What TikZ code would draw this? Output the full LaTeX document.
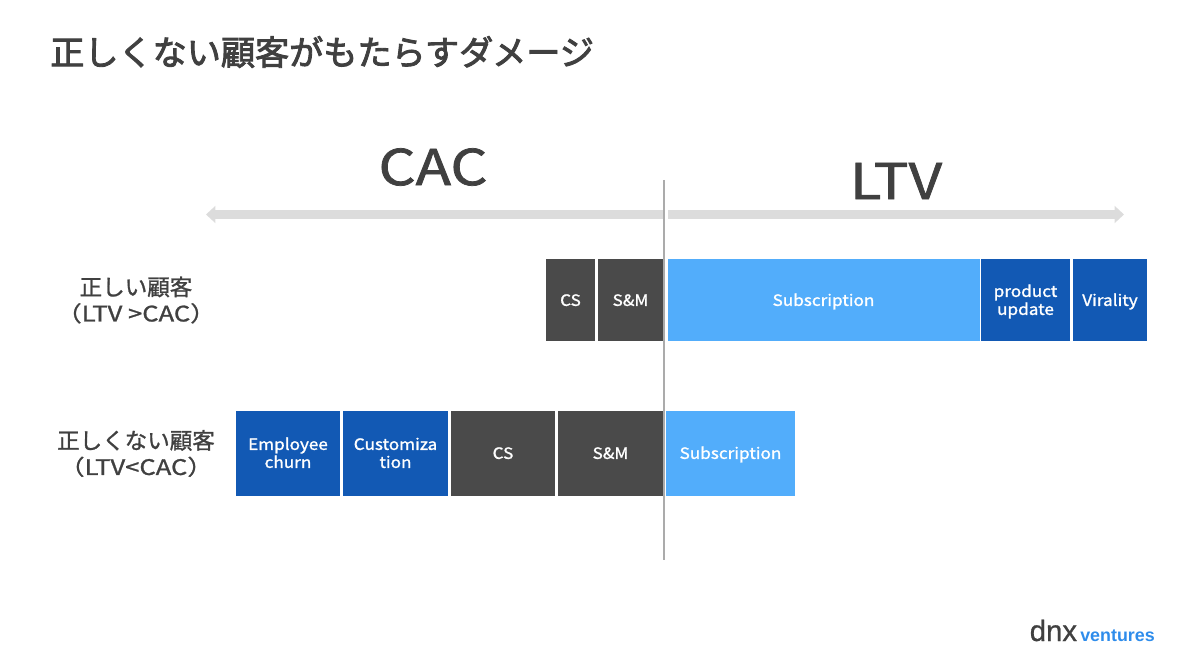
\documentclass[tikz,border=0pt]{standalone}
\usepackage{fontspec}
\setmainfont{Noto Sans CJK JP}
\newfontfamily\med[FakeBold=1.1]{Noto Sans CJK JP}
\newfontfamily\boxfont[FakeBold=1.3,FakeStretch=1.1]{Noto Sans CJK JP}
\newfontfamily\wide[FakeBold=1.2,FakeStretch=1.2]{Noto Sans CJK JP}
\newfontfamily\bighead[FakeBold=1.5,FakeStretch=1.18]{Noto Sans CJK JP}
\newfontfamily\heavy[FakeBold=2.6]{Noto Sans CJK JP}
\newfontfamily\logomed[FakeBold=0.8]{Liberation Sans}
\newfontfamily\logofont{Liberation Sans}
\usetikzlibrary{arrows.meta}
\definecolor{ink}{HTML}{404040}
\definecolor{dark}{HTML}{4A4A4A}
\definecolor{royal}{HTML}{1259B4}
\definecolor{sky}{HTML}{52ADFB}
\definecolor{band}{HTML}{DCDCDC}
\definecolor{rule}{HTML}{ABABAB}
\definecolor{logoblue}{HTML}{2E8CEB}
\newcommand{\lowered}[1]{\raisebox{-1.5pt}[0.75em][0.25em]{#1}}
\tikzset{
  x=0.75pt,y=-0.75pt,
  bar/.style={draw=none,inner sep=0pt,text=white,align=center,font=\boxfont\fontsize{11.7}{13.5}\selectfont,minimum height=#1*0.75pt},
  upper/.style={bar=82},
  lower/.style={bar=85},
  wd/.style={minimum width=#1*0.75pt},
  rowlabel/.style={text=ink,align=center,font=\med\fontsize{16.9}{19.5}\selectfont,inner sep=0pt},
  head/.style={text=ink,inner sep=0pt,font=\bighead\fontsize{37}{44}\selectfont},
  span/.style={draw=band,line width=7pt,-{Triangle[length=7pt,width=12.5pt]}},
}
\begin{document}
\begin{tikzpicture}
\useasboundingbox (0,0) rectangle (1200,649);
\node[inner sep=0pt,anchor=west,text=ink,font=\heavy\fontsize{25.6}{30}\selectfont] (title) at (50,52) {正しくない顧客がもたらすダメージ};
\node[head] (cac) at (433,167) {CAC};
\node[head] (ltv) at (896,181) {LTV};

\coordinate (lfar) at (206,214.5);
\coordinate (lnear) at (663,214.5);
\coordinate (rnear) at (668,214.5);
\coordinate (rfar) at (1124,214.5);
\draw[span] (lnear) -- (lfar);
\draw[span] (rnear) -- (rfar);

\coordinate (ruletop) at (664,180);
\coordinate (rulebot) at (664,560);
\draw[rule,line width=1.1pt] (ruletop) -- (rulebot);

\node[rowlabel] (right) at (136,300) {正しい顧客\\{\wide\fontsize{16}{19.5}\selectfont（LTV >CAC）}};
\node[rowlabel] (wrong) at (136,453.5) {正しくない顧客\\{\wide\fontsize{16}{19.5}\selectfont（LTV<CAC）}};

\node[upper,wd=49,fill=dark] (a1) at (570.5,300) {\lowered{CS}};
\node[upper,wd=65,fill=dark] (a2) at (630.5,300) {\lowered{S\&M}};
\node[upper,wd=312,fill=sky] (a3) at (823.5,300) {\lowered{Subscription}};
\node[upper,wd=89,fill=royal] (a4) at (1025.5,300) {\lowered{product}\\\lowered{update}};
\node[upper,wd=74,fill=royal] (a5) at (1110,300) {\lowered{Virality}};

\node[lower,wd=104,fill=royal] (b1) at (288,453) {\lowered{Employee}\\\lowered{churn}};
\node[lower,wd=105,fill=royal] (b2) at (395.5,453) {\lowered{Customiza}\\\lowered{tion}};
\node[lower,wd=104,fill=dark] (b3) at (503,453) {\lowered{CS}};
\node[lower,wd=105,fill=dark] (b4) at (610.5,453) {\lowered{S\&M}};
\node[lower,wd=129,fill=sky] (b5) at (730.5,453) {\lowered{Subscription}};

\node[inner sep=0pt,anchor=base east,text=logoblue,font=\logofont\fontsize{13.4}{16}\selectfont\bfseries] (logoB) at (1155,641) {ventures};
\node[inner sep=0pt,anchor=base east,text=ink,font=\logomed\fontsize{22}{24}\selectfont] (logoA) at ([xshift=-2pt]logoB.base west) {dnx};
\end{tikzpicture}
\end{document}
